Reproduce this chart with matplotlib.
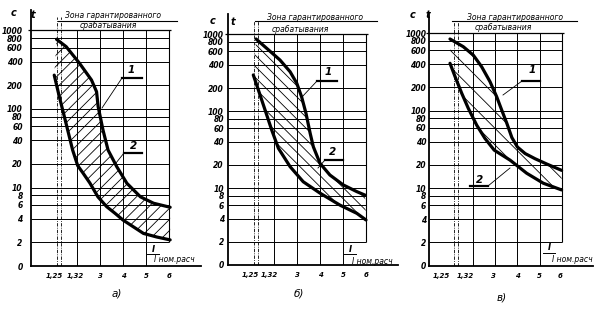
import numpy as np
import matplotlib
matplotlib.use('Agg')
import matplotlib.pyplot as plt
from matplotlib.lines import Line2D

# ---------------- data ----------------
y_ticks = [0, 2, 4, 6, 8, 10, 20, 40, 60, 80, 100, 200, 400, 600, 800, 1000]
y_ticklabels = [str(v) for v in y_ticks]
x_grid = [2, 3, 4, 5]
x_dash = [1.15, 1.32]
x_ticklabels = ['1,25', '1,32', '3', '4', '5', '6']
captions = ['а)', 'б)', 'в)']
title_1 = 'Зона гарантированного'
title_2 = 'срабатывания'

# panel a
a_up_x = [1.11, 1.53, 2.11, 2.63, 2.85, 2.92, 3.13, 3.35, 3.73, 4.17, 4.76, 5.33, 6.05]
a_up_y = [773, 622, 382, 234, 166, 107, 54, 30, 18.4, 11.3, 7.6, 6.3, 5.6]
a_lo_x = [1.01, 1.23, 1.45, 1.67, 1.81, 2.03, 2.26, 2.56, 2.91, 3.29, 3.65, 4.0, 4.89, 5.47, 6.05]
a_lo_y = [270, 144, 80, 44, 30, 19, 15.3, 11.4, 7.6, 5.7, 4.7, 3.85, 2.6, 2.34, 2.15]
# panel b
b_up_x = [1.22, 1.68, 2.26, 2.70, 2.99, 3.20, 3.39, 3.57, 3.71, 4.0, 4.43, 5.01, 5.60, 5.96]
b_up_y = [869, 658, 463, 326, 231, 154, 94, 52, 34.5, 21, 14.8, 11, 9, 8.1]
b_lo_x = [1.10, 1.32, 1.61, 1.90, 2.19, 2.70, 3.27, 4.0, 4.87, 5.60, 6.0]
b_lo_y = [296, 189, 104, 57, 33, 19, 12.1, 8.6, 6.0, 4.7, 3.85]
# panel c
c_up_x = [0.95, 1.55, 2.0, 2.38, 2.76, 3.06, 3.29, 3.52, 3.75, 4.0, 4.35, 4.8, 5.33, 6.0]
c_up_y = [842, 670, 523, 370, 237, 152, 102, 69, 45, 34, 28, 24, 20.5, 17]
c_lo_x = [0.95, 1.18, 1.48, 1.78, 2.16, 2.53, 2.95, 3.67, 4.42, 5.17, 6.0]
c_lo_y = [409, 275, 168, 107, 65, 44, 31, 23, 15.6, 11.6, 9.5]

W, H = 605, 309
fig = plt.figure(figsize=(W / 100, H / 100), dpi=100)
plt.rcParams['hatch.linewidth'] = 0.6

NARROW = ['Liberation Sans Narrow', 'DejaVu Sans']
HAND = ['DejaVu Sans']

L2 = np.log10(2)


def fwd(y):
    y = np.asarray(y, dtype=float)
    return np.where(y >= 2, np.log10(np.clip(y, 2, None)), y * L2 / 2)


def inv(f):
    f = np.asarray(f, dtype=float)
    return np.where(f >= L2, 10 ** np.clip(f, None, 10), f * 2 / L2)


def fx(px):
    return px / W


def fy(py):
    return 1 - py / H


def ftext(px, py, s, **kw):
    kw.setdefault('ha', 'center')
    kw.setdefault('va', 'center')
    fig.text(fx(px), fy(py), s, **kw)


def fline(xs, ys, lw=0.8):
    fig.add_artist(Line2D([fx(x) for x in xs], [fy(y) for y in ys],
                          transform=fig.transFigure, color='k', lw=lw))


panels = [
    dict(x0=31, pxu=23.0, y0=266, ppd=78.5, up=(a_up_x, a_up_y), lo=(a_lo_x, a_lo_y),
         hatch='///', xt=[1.0, 1.91, 3, 4, 5, 6], ypad=6,
         c=(14, 13), t=(33, 15), t1=(113, 16), u1=(58, 177, 21), t2=(108, 26),
         l1=(131, 70, 122, 142, 78, 102, 108), l2=(134, 146, 124, 142, 153, 116, 163),
         fr=(153, 174, 147, 159), frac_y=(249, 254, 260), cap=(117, 293)),
    dict(x0=228, pxu=23.0, y0=265, ppd=76.9, up=(b_up_x, b_up_y), lo=(b_lo_x, b_lo_y),
         hatch='\\\\\\', xt=[0.97, 1.78, 3, 4, 5, 6], ypad=3,
         c=(213, 21), t=(233, 22), t1=(315, 17), u1=(255, 377, 21), t2=(300, 30),
         l1=(328, 72, 317, 337, 81, 302, 97), l2=(333, 152, 325, 343, 160, 318, 168),
         fr=(350, 372, 344, 356), frac_y=(249, 254, 261), cap=(299, 293)),
    dict(x0=429, pxu=22.1, y0=265.7, ppd=77.5, up=(c_up_x, c_up_y), lo=(c_lo_x, c_lo_y),
         hatch='\\\\', xt=[0.57, 1.63, 2.9, 4, 5, 5.95], ypad=2,
         c=(413, 15), t=(428, 15), t1=(515, 17), u1=(452, 577, 21), t2=(503, 28),
         l1=(532, 70, 522, 540, 81, 503, 95), l2=(480, 180, 470, 488, 186, 510, 168),
         fr=(549, 572, 543, 555), frac_y=(248, 253, 260), cap=(502, 298)),
]

xmin, xmax, ftop = -0.2, 7.4, 3.26

for i, p in enumerate(panels):
    left = (p['x0'] + xmin * p['pxu']) / W
    width = (xmax - xmin) * p['pxu'] / W
    bottom = (H - p['y0']) / H
    height = ftop * p['ppd'] / H
    ax = fig.add_axes([left, bottom, width, height])
    ax.patch.set_visible(False)
    ax.set_yscale('function', functions=(fwd, inv))
    ax.set_xlim(xmin, xmax)
    ax.set_ylim(0, 10 ** ftop)
    for s in ['top', 'right']:
        ax.spines[s].set_visible(False)
    ax.spines['left'].set_position(('data', 0))
    ax.spines['left'].set_linewidth(1.3)
    ax.spines['bottom'].set_linewidth(1.3)
    ax.spines['bottom'].set_bounds(0, xmax)

    ax.set_yticks(y_ticks)
    ax.set_yticklabels(y_ticklabels, family=NARROW, style='italic', weight='bold', fontsize=5.5)
    ax.yaxis.set_minor_locator(matplotlib.ticker.NullLocator())
    ax.tick_params(axis='y', length=0, pad=p['ypad'])
    ax.set_xticks(p['xt'])
    ax.set_xticklabels(x_ticklabels, family=NARROW, style='italic', weight='bold', fontsize=5)
    ax.tick_params(axis='x', length=0, pad=5)

    # grid
    for v in y_ticks[1:]:
        if v == 1000:
            ax.hlines(v, -0.15, 6.1, color='k', lw=0.9)
        else:
            ax.hlines(v, 0, 6, color='k', lw=0.7)
    ax.vlines(x_grid, 0, 1000, color='k', lw=0.7)
    ax.vlines(6, 2, 1000, color='k', lw=0.8)
    ax.vlines(x_dash, 0, 1500, color='k', lw=0.6, linestyles=(0, (4, 1.5, 1, 1.5)))

    ux, uy = p['up']
    lx, ly = p['lo']
    ax.fill(np.r_[ux, lx[::-1]], np.r_[uy, ly[::-1]], facecolor='none',
            edgecolor='k', hatch=p['hatch'], lw=0)
    ax.plot(ux, uy, color='k', lw=2.3, solid_capstyle='round', solid_joinstyle='round')
    ax.plot(lx, ly, color='k', lw=2.3, solid_capstyle='round', solid_joinstyle='round')

    # texts
    ftext(*p['c'], 'с', family=HAND, style='italic', weight='bold', fontsize=7)
    ftext(*p['t'], 't', family=HAND, style='italic', weight='bold', fontsize=7)
    ftext(*p['t1'], title_1, family=HAND, style='italic', fontsize=5.5)
    x1, x2, yy = p['u1']
    fline([x1, x2], [yy, yy], lw=0.8)
    ftext(*p['t2'], title_2, family=HAND, style='italic', fontsize=5.5)
    for lab, l in zip(['1', '2'], [p['l1'], p['l2']]):
        tx, ty, ux1, ux2, uyy, ex, ey = l
        ftext(tx, ty, lab, family=HAND, style='italic', weight='bold', fontsize=7.5)
        fline([ux1, ux2], [uyy, uyy], lw=1.6)
        sx = ux1 if ex < ux1 else ux2
        fline([sx, ex], [uyy, ey], lw=0.6)
    fxI, fxL, bx1, bx2 = p['fr']
    yI, yb, yL = p['frac_y']
    ftext(fxI, yI, 'I', family=HAND, style='italic', weight='bold', fontsize=6)
    fline([bx1, bx2], [yb, yb], lw=0.7)
    ftext(fxL, yL, 'I ном.расч', family=HAND, style='italic', fontsize=5.5)
    ftext(*p['cap'], captions[i], family=HAND, style='italic', fontsize=7.5)

fig.savefig('out.png', dpi=100)
